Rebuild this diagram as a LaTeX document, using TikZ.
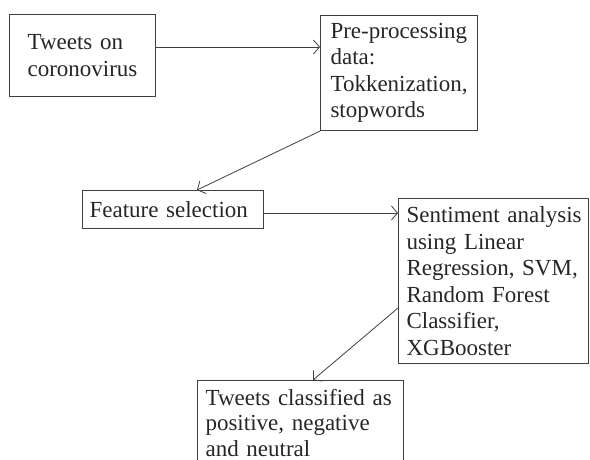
\documentclass[tikz,border=0pt]{standalone}
\usepackage{fontspec}
\setmainfont{Liberation Serif}
\usetikzlibrary{arrows.meta,calc}
\tikzset{
  box/.style={draw=black!75, line width=1.1pt, rectangle, anchor=north west,
    align=left, inner ysep=0pt, text=black!85,
    font=\fontsize{23}{26.5}\selectfont},
  arr/.style={draw=black!75, line width=0.8pt,
    -{Straight Barb[length=6pt,width=14pt]}}
}
\begin{document}
\begin{tikzpicture}[x=1pt,y=-1pt]
\useasboundingbox (0,0) rectangle (590,460);
\clip (0,0) rectangle (590,460);
\node[box, inner xsep=18pt, text width=110pt, minimum width=146pt, minimum height=82pt] (b1) at (9,14)
  {Tweets on\\coronovirus};
\node[box, inner xsep=10pt, text width=137pt, minimum width=157pt, minimum height=115pt] (b2) at (320,15)
  {\mbox{Pre-processing}\\data:\\\mbox{Tokkenization,}\\stopwords};
\node[box, inner xsep=7pt, text width=167pt, minimum width=181pt, minimum height=38pt] (b3) at (82,190)
  {\mbox{Feature selection}};
\node[box, inner xsep=8pt, text width=174pt, minimum width=190pt, minimum height=165pt] (b4) at (398,198)
  {\mbox{Sentiment analysis}\\\mbox{using Linear}\\\mbox{Regression, SVM,}\\\mbox{Random Forest}\\Classifier,\\XGBooster};
\node[box, inner xsep=8pt, text width=190pt, minimum width=206pt, minimum height=84pt,
  font=\fontsize{23}{25.5}\selectfont] (b5) at (197,380)
  {\mbox{Tweets classified as}\\\mbox{positive, negative}\\\mbox{and neutral}};
\draw[arr] ($(b1.north east)+(0,33)$) -- ($(b2.north west)+(0,32)$);
\draw[arr] (b2.south west) -- ($(b3.north west)+(115,0)$);
\draw[arr] ($(b3.north east)+(0,23)$) -- ($(b4.north west)+(0,15)$);
\draw[arr] ($(b4.north west)+(0,110)$) -- ($(b5.north west)+(116,0)$);
\end{tikzpicture}
\end{document}
